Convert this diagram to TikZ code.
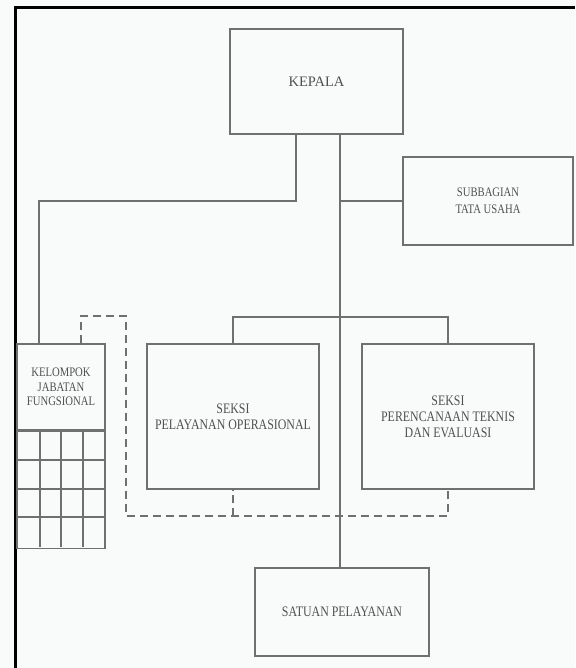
\documentclass[tikz,border=0pt]{standalone}
\usepackage{fontspec}
\setmainfont{Liberation Serif}
\newfontfamily\narrowfont[FakeStretch=0.82]{Liberation Serif}
\definecolor{bgcol}{HTML}{F9FBFB}
\definecolor{linecol}{HTML}{707070}
\definecolor{txtcol}{HTML}{505050}
\begin{document}
\begin{tikzpicture}[x=1pt,y=-1pt,
  box/.style={draw=linecol, line width=1.2pt, inner sep=0pt, align=center,
    text=txtcol, font=\narrowfont\fontsize{14.5}{16}\selectfont},
  conn/.style={draw=linecol, line width=1.2pt},
  dconn/.style={draw=linecol, line width=1.2pt, dash pattern=on 8pt off 5pt},
  frame/.style={draw=black, line width=3pt}]
\fill[bgcol] (0,0) rectangle (575,668);
\useasboundingbox (0,0) rectangle (575,668);
% outer frame (cropped)
\draw[frame] (15,668) -- (15,8) -- (575,8);

% boxes
\node[box, minimum width=173pt, minimum height=105pt,
  font=\fontsize{14.5}{16}\selectfont] (kepala) at (316.5,81.5) {KEPALA};
\node[box, minimum width=170pt, minimum height=88pt,
  font=\narrowfont\fontsize{13}{16.5}\selectfont] (sub) at (488,201) {SUBBAGIAN\\TATA USAHA};
\node[box, minimum width=88pt, minimum height=86pt,
  font=\narrowfont\fontsize{13}{14.5}\selectfont] (kjf) at (61,387) {KELOMPOK\\JABATAN\\FUNGSIONAL};
\node[draw=linecol, line width=1.2pt, minimum width=88pt, minimum height=117pt,
  inner sep=0pt, anchor=north] (kjfgrid) at (kjf.south) {};
\node[box, minimum width=172pt, minimum height=145pt] (spo) at (233,416.5)
  {SEKSI\\PELAYANAN OPERASIONAL};
\node[box, minimum width=172pt, minimum height=145pt] (spte) at (448,416.5)
  {SEKSI\\PERENCANAAN TEKNIS\\DAN EVALUASI};
\node[box, minimum width=174pt, minimum height=88pt] (sat) at (342,612)
  {SATUAN PELAYANAN};

% grid of the functional group
\foreach \x in {40,61,83} \draw[conn] (\x,430) -- (\x,547);
\foreach \y in {460,489,517} \draw[conn] (17,\y) -- (105,\y);

% junction coordinates
\coordinate (mtop) at (340,134);
\coordinate (msub) at (340,201);
\coordinate (mbar) at (340,317);
\coordinate (mbot) at (340,568);
\coordinate (ltop) at (296,134);
\coordinate (lcorner) at (296,201);
\coordinate (lleft) at (39,201);
\coordinate (barl) at (233,317);
\coordinate (barr) at (448,317);

% solid connectors
\draw[conn] (kepala.south -| mtop) -- (sat.north -| mbot);
\draw[conn] (kepala.south -| ltop) -- (lcorner) -- (lleft) -- (kjf.north -| lleft);
\draw[conn] (msub) -- (sub.west |- msub);
\draw[conn] (spo.north -| barl) -- (barl) -- (barr) -- (spte.north -| barr);

% dashed connectors
\coordinate (d1) at (81,316);
\coordinate (d2) at (126,316);
\coordinate (d3) at (126,516);
\coordinate (d4) at (448,516);
\coordinate (d5) at (233,516);
\draw[dconn] (kjf.north -| d1) -- (d1) -- (d2) -- (d3) -- (d4) -- (spte.south -| d4);
\draw[dconn] (d5) -- (spo.south -| d5);
\end{tikzpicture}
\end{document}
